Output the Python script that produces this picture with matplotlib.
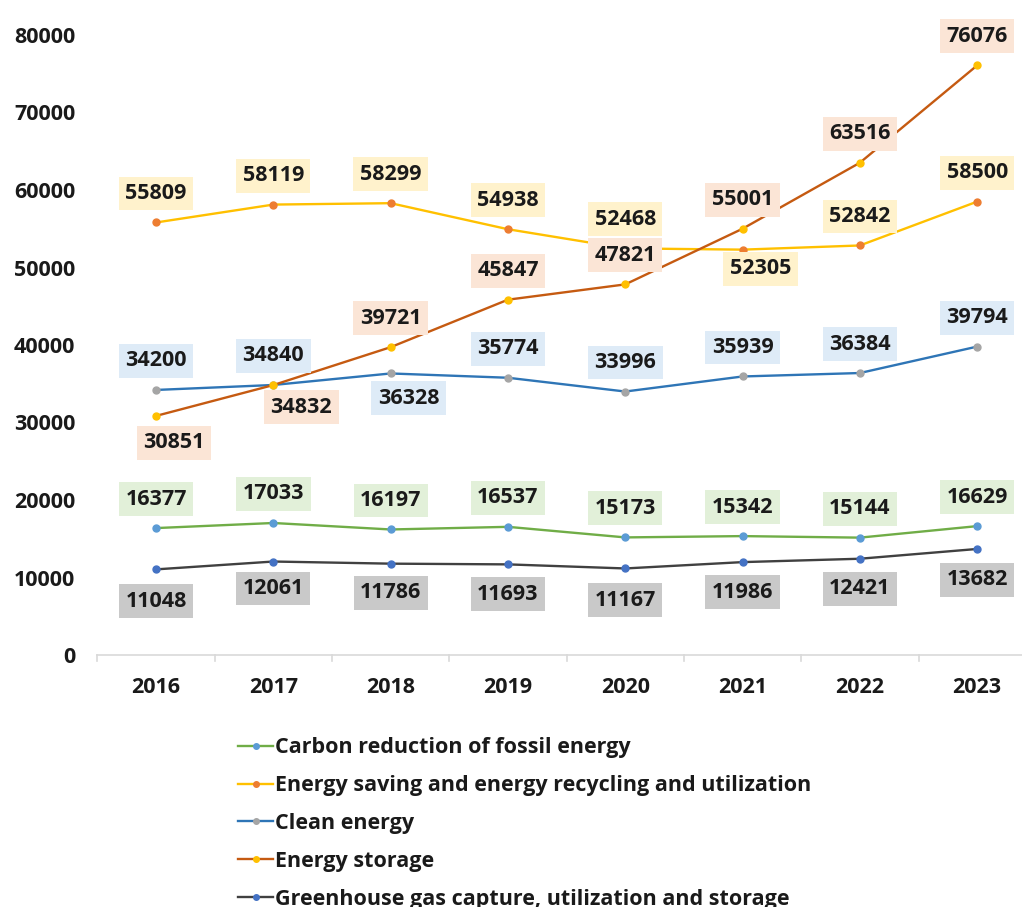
import matplotlib
matplotlib.use("Agg")
import matplotlib.pyplot as plt
from matplotlib.lines import Line2D

years = ["2016", "2017", "2018", "2019", "2020", "2021", "2022", "2023"]
carbon_reduction = [16377, 17033, 16197, 16537, 15173, 15342, 15144, 16629]
energy_saving = [55809, 58119, 58299, 54938, 52468, 52305, 52842, 58500]
clean_energy = [34200, 34840, 36328, 35774, 33996, 35939, 36384, 39794]
energy_storage = [30851, 34832, 39721, 45847, 47821, 55001, 63516, 76076]
ghg_capture = [11048, 12061, 11786, 11693, 11167, 11986, 12421, 13682]
series_names = [
    "Carbon reduction of fossil energy",
    "Energy saving and energy recycling and utilization",
    "Clean energy",
    "Energy storage",
    "Greenhouse gas capture, utilization and storage",
]
y_ticks = [0, 10000, 20000, 30000, 40000, 50000, 60000, 70000, 80000]

FONT = "Open Sans"
FS = 15.5

# style: (line colour, marker colour, label box colour, label offsets in px (dx, dy; dy>0 = up))
up = (0, 29)
styles = [
    ("#70AD47", "#5B9BD5", "#E2F0D9", [up] * 8),
    ("#FFC000", "#ED7D31", "#FFF2CC", [up, up, up, up, up, (18, -19), up, up]),
    ("#2E75B6", "#A5A5A5", "#DEEBF7", [up, up, (18, -25), up, up, up, up, up]),
    ("#C55A11", "#FFC000", "#FBE5D6", [(18, -27), (28, -22), up, up, up, up, up, up]),
    ("#404040", "#4472C4", "#C9C9C9", [(0, -32), (0, -27), (0, -29), (0, -30), (0, -32), (0, -30), (0, -30), (0, -31)]),
]
all_series = [carbon_reduction, energy_saving, clean_energy, energy_storage, ghg_capture]

fig = plt.figure(figsize=(10.22, 9.07), dpi=100)
ax = fig.add_axes([97.4 / 1022, 252 / 907, (1022 - 97.4) / 1022, 620 / 907])

x = list(range(len(years)))
handles = []
for vals, name, (lc, mc, bc, offs) in zip(all_series, series_names, styles):
    ax.plot(x, vals, color=lc, lw=1.7, marker="o", ms=5, mfc=mc, mec=mc, zorder=3, solid_capstyle="round")
    handles.append(Line2D([], [], color=lc, lw=1.7, marker="o", ms=4, mfc=mc, mec=mc))
    for xi, v, (dx, dy) in zip(x, vals, offs):
        ax.annotate(f"{v}", (xi, v), xytext=(dx * 0.72, dy * 0.72), textcoords="offset points",
                    ha="center", va="center", fontsize=FS, fontweight="bold", family=FONT,
                    color="#1a1a1a", annotation_clip=False, zorder=4,
                    bbox=dict(boxstyle="square,pad=0.3", fc=bc, ec="none"))

ax.set_xlim(-0.5, -0.5 + (1022 - 97.4) / 117.3)
ax.set_ylim(0, 80000)
ax.set_yticks(y_ticks)
ax.set_yticklabels([str(t) for t in y_ticks], fontsize=FS, fontweight="bold", family=FONT, color="#1a1a1a")
ax.set_xticks(x)
ax.set_xticklabels(years, fontsize=FS, fontweight="bold", family=FONT, color="#1a1a1a")
ax.tick_params(axis="y", length=0, pad=16)
ax.tick_params(axis="x", length=0, pad=16)
for s in ["top", "right", "left"]:
    ax.spines[s].set_visible(False)
ax.spines["bottom"].set_color("#D9D9D9")
ax.spines["bottom"].set_linewidth(1.2)
# category boundary tick marks
for b in [i - 0.5 for i in range(len(years) + 1)]:
    ax.plot([b, b], [0, -800], color="#D9D9D9", lw=1.2, clip_on=False, zorder=1)

leg = fig.legend(handles, series_names, loc="upper left", bbox_to_anchor=(219 / 1022, 1 - 718 / 907),
                 frameon=False, handlelength=1.6, handletextpad=0.12, labelspacing=0.78,
                 prop={"family": FONT, "weight": "bold", "size": FS})
for t in leg.get_texts():
    t.set_color("#1a1a1a")

fig.savefig("out.png", dpi=100)
